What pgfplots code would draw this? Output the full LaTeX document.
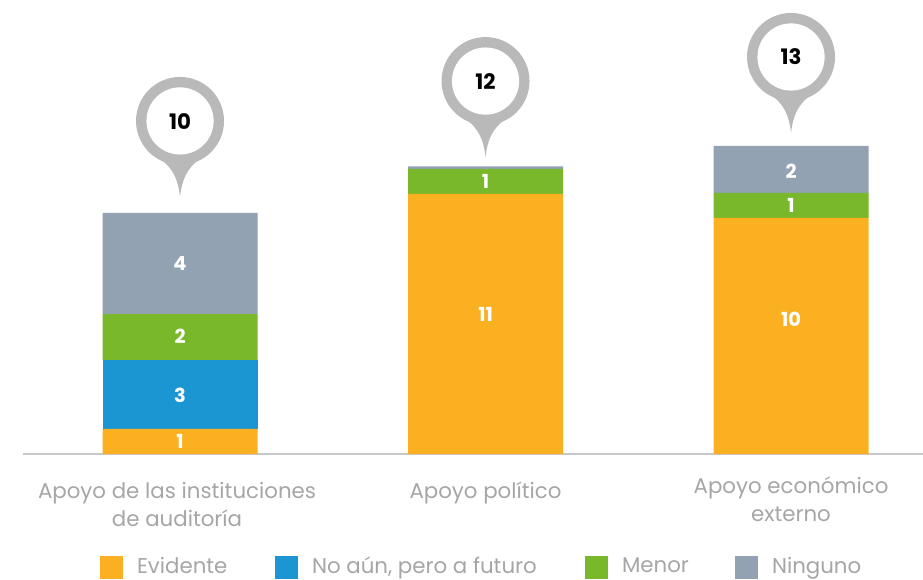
\documentclass[border=0pt]{standalone}
\usepackage{pgfplots}
\pgfplotsset{compat=1.18}
\usepackage{fontspec}
\setmainfont{Poppins}
\definecolor{cA}{HTML}{FBB022}
\definecolor{cB}{HTML}{1C96D3}
\definecolor{cC}{HTML}{78B82A}
\definecolor{cD}{HTML}{92A2B2}
\definecolor{pinc}{HTML}{B9B9B9}
\definecolor{txt}{HTML}{A6A6A6}
\definecolor{axc}{HTML}{C8C8C8}
\pgfdeclareplotmark{pin}{%
  \pgfsetfillcolor{pinc}%
  \pgfpathcircle{\pgfpoint{0pt}{57pt}}{33pt}%
  \pgfusepathqfill
  \pgfpathmoveto{\pgfpoint{0pt}{0pt}}%
  \pgfpathcurveto{\pgfpoint{-1.5pt}{13pt}}{\pgfpoint{-5pt}{22pt}}{\pgfpoint{-16.5pt}{29.5pt}}%
  \pgfpathlineto{\pgfpoint{16.5pt}{29.5pt}}%
  \pgfpathcurveto{\pgfpoint{5pt}{22pt}}{\pgfpoint{1.5pt}{13pt}}{\pgfpoint{0pt}{0pt}}%
  \pgfpathclose
  \pgfusepathqfill
  \pgfsetfillcolor{white}%
  \pgfpathcircle{\pgfpoint{0pt}{57pt}}{25.2pt}%
  \pgfusepathqfill
}
\pgfplotsset{
  base/.style={
    scale only axis,
    width=675pt, height=333pt,
    at={(17.25pt,93.75pt)}, anchor=south west,
    xmin=-0.514, xmax=2.432, ymin=0, ymax=18.81,
    clip=false,
  }
}
\renewcommand{\arraystretch}{1.05}
\begin{document}
\begin{tikzpicture}
\useasboundingbox (0,0) rectangle (692.25pt,434.25pt);
\begin{axis}[base,
  ybar stacked, bar width=116.25pt,
  axis x line=bottom, axis y line=none,
  axis line style={draw=axc, line width=1.1pt, -},
  xtick={0,1,2},
  xticklabels={
    {\raisebox{0pt}[12pt][0pt]{\begin{tabular}[t]{@{}c@{\hspace{4.5pt}}}Apoyo de las instituciones\\de auditoría\end{tabular}}},
    {\raisebox{0pt}[12pt][0pt]{\begin{tabular}[t]{@{}c@{}}Apoyo político\end{tabular}}},
    {\raisebox{3.75pt}[12pt][0pt]{\begin{tabular}[t]{@{}c@{}}Apoyo económico\\externo\end{tabular}}}},
  major tick length=0pt,
  x tick label style={font=\fontsize{16}{20}\selectfont, text=txt, anchor=north, yshift=-21pt, inner sep=0pt},
  legend columns=4,
  legend cell align=left,
  legend image code/.code={\fill[#1] (0pt,-8.6pt) rectangle (17.25pt,8.6pt); \path (27.75pt,0pt);},
  legend style={draw=none, fill=none, inner sep=0pt, outer sep=0pt,
    at={(57.75pt,-84.85pt)}, anchor=west,
    font=\fontsize{16}{18}\selectfont, text=txt,
    nodes={inner xsep=0pt, inner ysep=0pt},
    /tikz/every even column/.append style={column sep=0pt}},
]
\addplot[fill=cA, draw=none] coordinates {(0,1.06) (1,11.02) (2,10.0)};
\addlegendentry{\makebox[103.5pt][l]{\raisebox{1.8pt}{Evidente}}}
\addplot[fill=cB, draw=none] coordinates {(0,2.92) (1,0) (2,0)};
\addlegendentry{\makebox[204.75pt][l]{\raisebox{1.8pt}{No aún, pero a futuro}}}
\addplot[fill=cC, draw=none] coordinates {(0,1.95) (1,1.06) (2,1.06)};
\addlegendentry{\makebox[84.75pt][l]{\raisebox{1.8pt}{Menor}}}
\addplot[fill=cD, draw=none] coordinates {(0,4.28) (1,0.1) (2,1.99)};
\addlegendentry{\raisebox{1.8pt}{Ninguno}}
\end{axis}
\begin{axis}[base, hide axis]
\addplot[only marks, mark=pin] coordinates {(0,10.89) (1,12.58) (2,13.6)};
\addplot[only marks, mark=none, point meta=explicit symbolic, nodes near coords,
  nodes near coords style={anchor=center, inner sep=0pt, text=white, font=\fontsize{14.5}{16}\selectfont\bfseries}]
  coordinates {(0,0.55) [1] (0,2.5) [3] (0,5.0) [2] (0,8.05) [4]
               (1,5.93) [11] (1,11.53) [1]
               (2,5.72) [10] (2,10.51) [1] (2,11.99) [2]};
\addplot[only marks, mark=none, point meta=explicit symbolic, nodes near coords,
  nodes near coords style={anchor=center, inner sep=0pt, text=black, font=\fontsize{16}{16}\selectfont\bfseries}]
  coordinates {(0,14.07) [10] (1,15.8) [12] (2,16.82) [13]};
\end{axis}
\end{tikzpicture}
\end{document}
